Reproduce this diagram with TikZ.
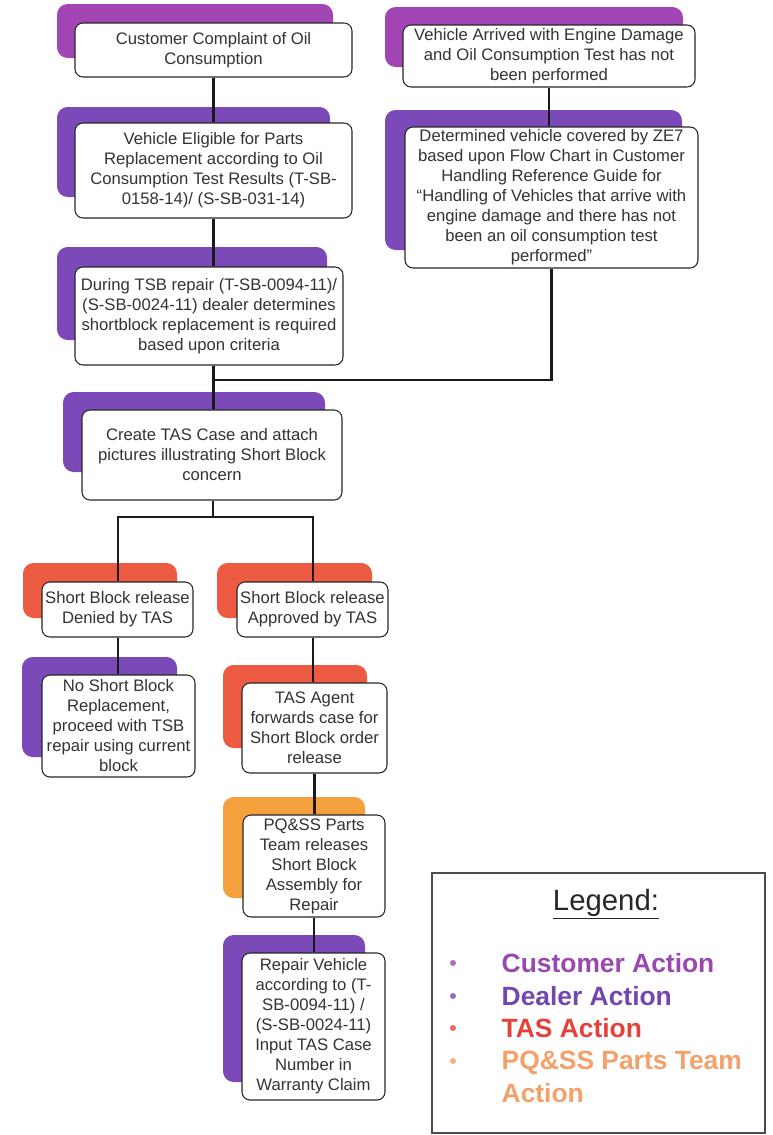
\documentclass[tikz,border=0pt]{standalone}
\usepackage{fontspec}
\setmainfont{Liberation Sans}
\begin{document}
\definecolor{custC}{HTML}{A245B4}
\definecolor{dealC}{HTML}{7B4AB8}
\definecolor{tasC}{HTML}{EC5B42}
\definecolor{pqC}{HTML}{F4A03C}
\definecolor{custT}{HTML}{9A48B0}
\definecolor{dealT}{HTML}{7447AE}
\definecolor{tasT}{HTML}{E5413A}
\definecolor{pqT}{HTML}{F3A06A}
\begin{tikzpicture}[x=0.75pt,y=-0.75pt,
  shade/.style={rounded corners=8pt},
  flowbox/.style={draw=black!85, line width=0.8pt, rounded corners=6pt, fill=white,
    align=center, inner sep=1pt, text=black!80,
    font=\fontsize{12.5}{15}\selectfont},
  link/.style={draw=black!90, line width=2.1pt},
  legtext/.style={anchor=west, font=\fontsize{19.8}{24.75}\selectfont\bfseries, align=left}]
\useasboundingbox (0,0) rectangle (772,1135);
% shadows
\fill[custC, shade] (57,4) rectangle (333,58);
\fill[custC, shade] (385,7) rectangle (683,67);
\fill[dealC, shade] (385,110) rectangle (682,250);
\fill[dealC, shade] (57,107) rectangle (330,197);
\fill[dealC, shade] (57,247) rectangle (327,340);
\fill[dealC, shade] (63,392) rectangle (325,472);
\fill[tasC, shade] (23,563) rectangle (177,618);
\fill[tasC, shade] (217,563) rectangle (372,618);
\fill[dealC, shade] (22,657) rectangle (177,757);
\fill[tasC, shade] (223,665) rectangle (367,748);
\fill[pqC, shade] (223,797) rectangle (365,898);
\fill[dealC, shade] (223,935) rectangle (365,1082);
% boxes
\node[flowbox, minimum width=207.75pt, minimum height=40.5pt] (B1) at (213.5,50) {Customer Complaint of Oil\\Consumption};
\node[flowbox, minimum width=219pt, minimum height=46.5pt] (B2) at (549,56) {Vehicle Arrived with Engine Damage\\and Oil Consumption Test has not\\been performed};
\node[flowbox, minimum width=219.75pt, minimum height=105.75pt] (B3) at (551.5,197.5) {Determined vehicle covered by ZE7\\based upon Flow Chart in Customer\\Handling Reference Guide for\\“Handling of Vehicles that arrive with\\engine damage and there has not\\been an oil consumption test\\performed”};
\node[flowbox, minimum width=207.75pt, minimum height=71.25pt] (B4) at (213.5,170.5) {Vehicle Eligible for Parts\\Replacement according to Oil\\Consumption Test Results (T-SB-\\0158-14)/ (S-SB-031-14)};
\node[flowbox, minimum width=201pt, minimum height=73.5pt] (B5) at (209,316) {During TSB repair (T-SB-0094-11)/\\(S-SB-0024-11) dealer determines\\shortblock replacement is required\\based upon criteria};
\node[flowbox, minimum width=195pt, minimum height=67.5pt] (B6) at (212,455) {Create TAS Case and attach\\pictures illustrating Short Block\\concern};
\node[flowbox, minimum width=113.25pt, minimum height=41.25pt] (B7) at (117.5,609.5) {Short Block release\\Denied by TAS};
\node[flowbox, minimum width=113.25pt, minimum height=41.25pt] (B8) at (312.5,609.5) {Short Block release\\Approved by TAS};
\node[flowbox, minimum width=114.75pt, minimum height=76.5pt] (B9) at (118.5,726) {No Short Block\\Replacement,\\proceed with TSB\\repair using current\\block};
\node[flowbox, minimum width=108.75pt, minimum height=67.5pt] (B10) at (314.5,728) {TAS Agent\\forwards case for\\Short Block order\\release};
\node[flowbox, minimum width=106.5pt, minimum height=76.5pt] (B11) at (314,866) {PQ\&SS Parts\\Team releases\\Short Block\\Assembly for\\Repair};
\node[flowbox, minimum width=107.25pt, minimum height=110.25pt] (B12) at (313.5,1026.5) {Repair Vehicle\\according to (T-\\SB-0094-11) /\\(S-SB-0024-11)\\Input TAS Case\\Number in\\Warranty Claim};
% connectors
\coordinate (j1) at (213,380);
\coordinate (j2) at (213,517);
\coordinate (jl) at (118,517);
\coordinate (jr) at (313,517);
\draw[link] (B1.south) -- (B1.south |- B4.north);
\draw[link] (B4.south) -- (B4.south |- B5.north);
\draw[link] (B4.south |- B5.south) -- (B4.south |- B6.north);
\draw[link] (B2.south) -- (B2.south |- B3.north);
\draw[link] (B3.south) |- (j1);
\draw[link] (B6.south -| j2) -- (j2);
\draw[link, line cap=rect] (jl) -- (jr);
\draw[link] (jl) -- (jl |- B7.north);
\draw[link] (jr) -- (jr |- B8.north);
\draw[link] (B7.south -| jl) -- (jl |- B9.north);
\draw[link] (B8.south -| jr) -- (jr |- B10.north);
\draw[link] (B10.south) -- (B10.south |- B11.north);
\draw[link] (B11.south) -- (B11.south |- B12.north);
% legend
\node[draw=black!70, line width=1.1pt, minimum width=249.75pt, minimum height=195pt, inner sep=0pt] (L) at (598.5,1003) {};
\node[font=\fontsize{22}{26}\selectfont, text=black!85] (LT) at (606,904) {\underline{Legend:}};
\fill[custT!80] (453,963) circle (3);
\fill[dealT!80] (453,996) circle (3);
\fill[tasT!80] (453,1028) circle (3);
\fill[pqT!80] (453,1061) circle (3);
\node[legtext, text=custT] (L1) at (497,963) {Customer Action};
\node[legtext, text=dealT] (L2) at (497,996) {Dealer Action};
\node[legtext, text=tasT] (L3) at (497,1028) {TAS Action};
\node[legtext, text=pqT, anchor=north west] (L4) at (497,1046) {PQ\&SS Parts Team\\Action};
\end{tikzpicture}
\end{document}
